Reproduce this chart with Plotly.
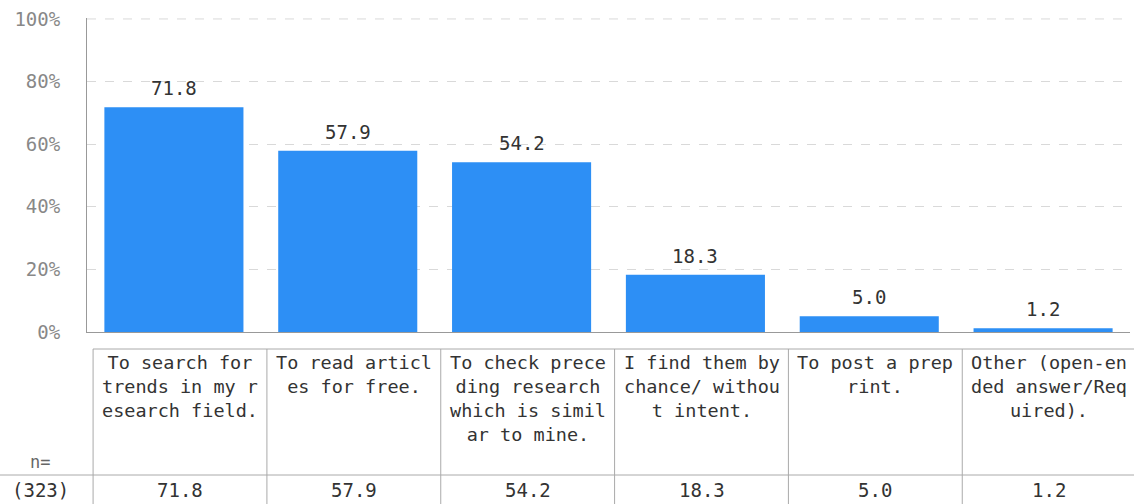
import plotly.graph_objects as go

categories = [
    "To search for trends in my research field.",
    "To read articles for free.",
    "To check preceding research which is similar to mine.",
    "I find them by chance/ without intent.",
    "To post a preprint.",
    "Other (open-ended answer/Required).",
]
header_lines = [
    ["To search for", "trends in my r", "esearch field."],
    ["To read articl", "es for free."],
    ["To check prece", "ding research", "which is simil", "ar to mine."],
    ["I find them by", "chance/ withou", "t intent."],
    ["To post a prep", "rint."],
    ["Other (open-en", "ded answer/Req", "uired)."],
]
values = [71.8, 57.9, 54.2, 18.3, 5.0, 1.2]
n_label = "(323)"
yticks = [0, 20, 40, 60, 80, 100]
ytick_text = ["0%", "20%", "40%", "60%", "80%", "100%"]

FONT = "DejaVu Sans Mono"
W, H = 1134, 504
ML, MR, MT, MB = 87, 4, 18, 172
PH = H - MT - MB
PW = W - ML - MR

def py(px):  # pixel y -> paper y
    return (H - MB - px) / PH

def pxp(px):  # pixel x -> paper x
    return (px - ML) / PW

idx = list(range(len(categories)))

fig = go.Figure(go.Bar(
    x=idx, y=values,
    marker=dict(color="#2d8ff5", line=dict(width=0)),
    hoverinfo="skip",
))

fig.update_layout(
    width=W, height=H,
    margin=dict(l=ML, r=MR, t=MT, b=MB, autoexpand=False),
    paper_bgcolor="white", plot_bgcolor="white",
    bargap=0.2, showlegend=False,
    xaxis=dict(range=[-0.5, len(categories) - 0.5], showticklabels=False,
               showgrid=False, zeroline=False, showline=True,
               linecolor="#999999", linewidth=1, ticks=""),
    yaxis=dict(range=[0, 100.3], tickvals=yticks, ticktext=ytick_text,
               showgrid=True, gridcolor="#d9d9d9", griddash="dash", gridwidth=1,
               zeroline=False, showline=True, linecolor="#999999", linewidth=1,
               tickfont=dict(family=FONT, size=19, color="#888888"),
               ticks="", ticklabelstandoff=22),
)

shapes = []
off = 0.035
line_col = "#aaaaaa"
# top (100%) dashed gridline
shapes.append(dict(type="line", xref="paper", yref="y",
                   x0=0, x1=1, y0=yticks[-1], y1=yticks[-1], layer="below",
                   line=dict(color="#d9d9d9", width=1, dash="dash")))
shapes.append(dict(type="line", xref="paper", yref="paper",
                   x0=pxp(93), x1=pxp(W), y0=py(349), y1=py(349),
                   line=dict(color=line_col, width=1)))
shapes.append(dict(type="line", xref="paper", yref="paper",
                   x0=pxp(0), x1=pxp(W), y0=py(475), y1=py(475),
                   line=dict(color=line_col, width=1)))
for i in idx:
    shapes.append(dict(type="line", xref="x", yref="paper",
                       x0=i - 0.5 + off, x1=i - 0.5 + off, y0=py(349), y1=py(H),
                       line=dict(color=line_col, width=1)))
fig.update_layout(shapes=shapes)

ann = []
for i in idx:
    ann.append(dict(xref="x", yref="y", x=i, y=values[i],
                    yanchor="bottom", xanchor="center", showarrow=False, yshift=6,
                    text=f"{values[i]:.1f}",
                    font=dict(family=FONT, size=19, color="#333333")))
    ann.append(dict(xref="x", yref="paper", x=i + off, y=py(350),
                    yanchor="top", xanchor="center", showarrow=False,
                    text="<br>".join(header_lines[i]), align="center",
                    font=dict(family=FONT, size=18.5, color="#333333")))
    ann.append(dict(xref="x", yref="paper", x=i + off, y=py(490),
                    yanchor="middle", xanchor="center", showarrow=False,
                    text=f"{values[i]:.1f}",
                    font=dict(family=FONT, size=19, color="#333333")))
ann.append(dict(xref="paper", yref="paper", x=pxp(40), y=py(462),
                yanchor="middle", xanchor="center", showarrow=False,
                text="n=", font=dict(family=FONT, size=17, color="#666666")))
ann.append(dict(xref="paper", yref="paper", x=pxp(40), y=py(490),
                yanchor="middle", xanchor="center", showarrow=False,
                text=n_label, font=dict(family=FONT, size=19, color="#333333")))
fig.update_layout(annotations=ann)

fig.write_html("out.html", config={"displayModeBar": False},
               post_script="document.body.style.margin='0';document.body.style.overflow='hidden';")
